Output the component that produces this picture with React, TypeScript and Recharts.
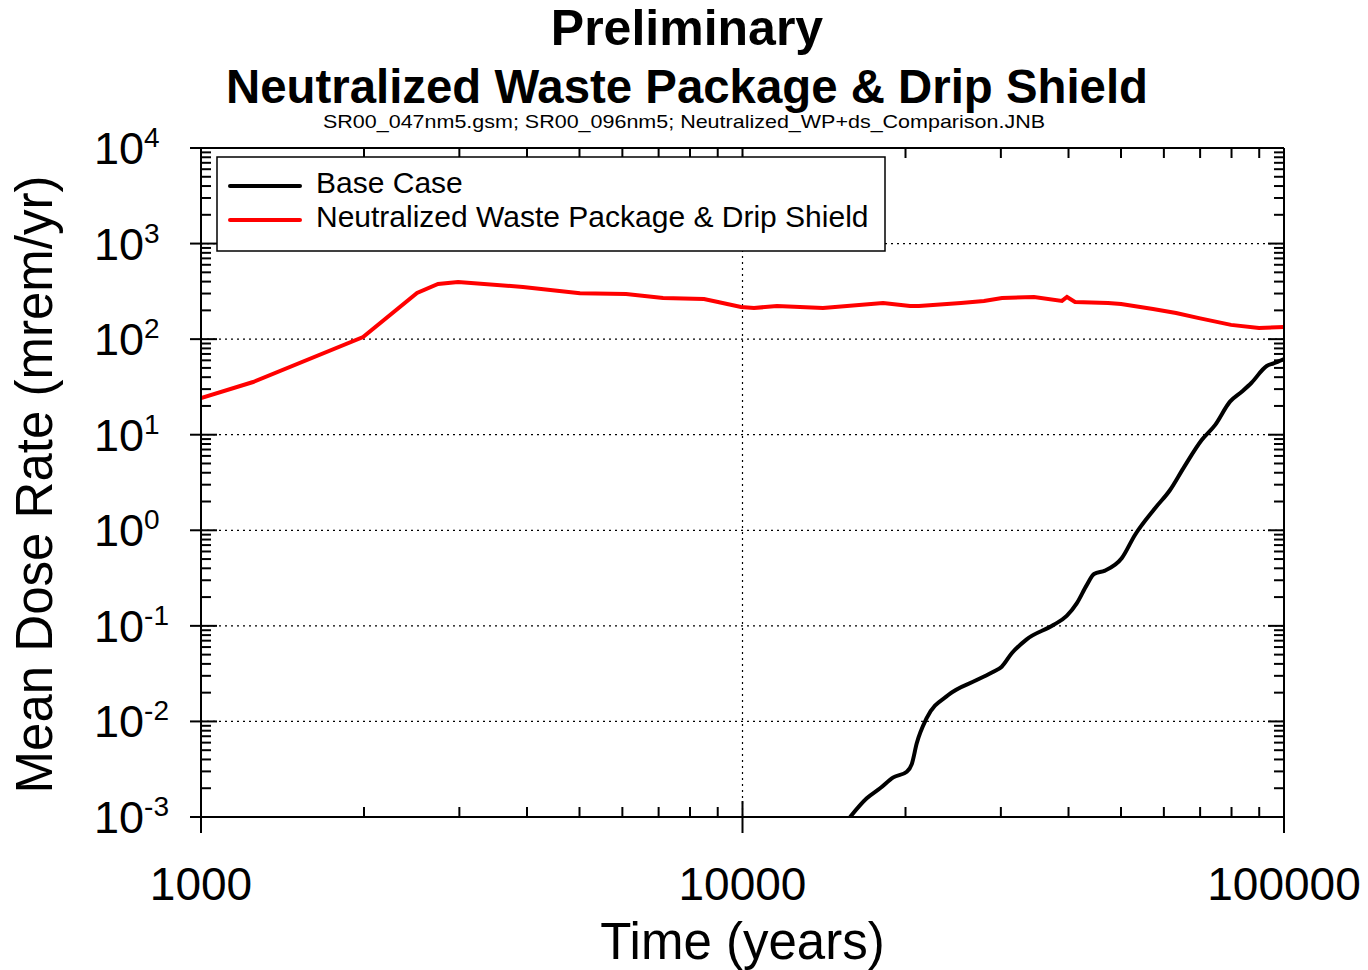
import React from 'react';
import {
  LineChart,
  Line,
  XAxis,
  YAxis,
  CartesianGrid,
  Legend,
} from 'recharts';

// Base case: time (years) vs mean dose rate (mrem/yr)
const BASE_T = [15800, 16960, 17950, 18990, 20110, 20540, 20980, 21880, 23990, 27070, 29060, 30110, 31420, 33480, 37500, 39690, 41420, 43220, 44580, 46710, 50150, 53060, 57790, 61600, 65170, 70470, 74580, 79480, 83560, 87110, 92910, 95640, 100000];
const BASE_DOSE = [0.001, 0.00157, 0.002, 0.0026, 0.00298, 0.00358, 0.0059, 0.0108, 0.0189, 0.0271, 0.0331, 0.0374, 0.0516, 0.0723, 0.102, 0.127, 0.172, 0.267, 0.349, 0.378, 0.509, 0.893, 1.7, 2.64, 4.45, 8.8, 12.6, 22.2, 28.2, 35.0, 52.4, 55.8, 62];

// Neutralized waste package & drip shield
const NEUTRAL_T = [1000, 1248, 1992, 2506, 2740, 2984, 3932, 5010, 6096, 7133, 8489, 9010, 9937, 10500, 11580, 14080, 18180, 20390, 21180, 25320, 27920, 30150, 34540, 38900, 39740, 41120, 47320, 50020, 57290, 63200, 69660, 79830, 89930, 100000];
const NEUTRAL_DOSE = [24.2, 35.6, 105, 304, 378, 396, 352, 302, 296, 269, 263, 245, 217, 212, 222, 212, 239, 222, 222, 239, 251, 269, 276, 251, 276, 245, 239, 233, 207, 188, 166, 141, 131, 134];

const X_MAJOR = [1000, 10000, 100000];
const Y_MAJOR = [0.001, 0.01, 0.1, 1, 10, 100, 1000, 10000];
const MINOR_MULT = [2, 3, 4, 5, 6, 7, 8, 9];

const X_ALL = [
  ...X_MAJOR,
  ...X_MAJOR.slice(0, -1).flatMap((d) => MINOR_MULT.map((m) => m * d)),
];
const Y_ALL = [
  ...Y_MAJOR,
  ...Y_MAJOR.slice(0, -1).flatMap((d) => MINOR_MULT.map((m) => +(m * d).toPrecision(3))),
];

const baseData = BASE_T.map((t, i) => ({ t, dose: BASE_DOSE[i] }));
const neutralData = NEUTRAL_T.map((t, i) => ({ t, dose: NEUTRAL_DOSE[i] }));

const FONT = "'Liberation Sans', Arial, Helvetica, sans-serif";

const isMajor = (v: number) => {
  const l = Math.log10(v);
  return Math.abs(l - Math.round(l)) < 1e-6;
};

// tick marks pointing into the plot area
const InTick = ({ x, y, payload, side }: any) => {
  const len = isMajor(payload.value) ? 16 : 10;
  let x2 = x;
  let y2 = y;
  if (side === 'bottom') y2 = y - len;
  if (side === 'top') y2 = y + len;
  if (side === 'left') x2 = x + len;
  if (side === 'right') x2 = x - len;
  return <line x1={x} y1={y} x2={x2} y2={y2} stroke="#000" strokeWidth={2} />;
};

const PowTick = ({ x, y, payload }: any) => {
  const e = Math.round(Math.log10(payload.value));
  return (
    <text x={x - 96} y={y + 16} textAnchor="start" fill="#000" fontSize={45} fontFamily={FONT}>
      <tspan>10</tspan>
      <tspan dy={-17} fontSize={28}>{e}</tspan>
    </text>
  );
};

const LegendBox = (props: any) => {
  const items = props.payload || [];
  return (
    <svg width={670} height={96} style={{ display: 'block' }}>
      <rect x={1} y={1} width={668} height={94} fill="#fff" stroke="#000" strokeWidth={1.5} />
      {items.map((it: any, i: number) => (
        <g key={it.value}>
          <line x1={14} x2={84} y1={30 + i * 34} y2={30 + i * 34} stroke={it.color} strokeWidth={4} strokeLinecap="round" />
          <text x={100} y={37 + i * 34} fontSize={30} fill="#000" fontFamily={FONT}>{it.value}</text>
        </g>
      ))}
    </svg>
  );
};

export default function App() {
  return (
    <div style={{ position: 'absolute', left: 0, top: 0, width: 1368, height: 970, background: '#fff', fontFamily: FONT }}>
      <LineChart width={1368} height={970} margin={{ top: 148, right: 84, bottom: 0, left: 0 }}>
        <CartesianGrid xAxisId="x" yAxisId="y" stroke="#000" strokeDasharray="2 4" strokeWidth={1.2} />
        <XAxis
          xAxisId="x"
          dataKey="t"
          type="number"
          scale="log"
          domain={[1000, 100000]}
          allowDataOverflow
          ticks={X_MAJOR}
          interval={0}
          height={153}
          tickSize={16}
          tickMargin={34}
          axisLine={{ stroke: '#000', strokeWidth: 2 }}
          tickLine={{ stroke: '#000', strokeWidth: 2 }}
          tick={{ fontSize: 46, fill: '#000', fontFamily: FONT }}
          label={{ value: 'Time (years)', position: 'center', dy: 47, fontSize: 51, fill: '#000', fontFamily: FONT }}
        />
        <XAxis
          xAxisId="xb"
          dataKey="t"
          type="number"
          scale="log"
          domain={[1000, 100000]}
          allowDataOverflow
          ticks={X_ALL}
          interval={0}
          orientation="bottom"
          mirror
          tickSize={0}
          tickMargin={0}
          axisLine={false}
          tickLine={false}
          tick={(p: any) => <InTick {...p} side="bottom" />}
        />
        <XAxis
          xAxisId="xt"
          dataKey="t"
          type="number"
          scale="log"
          domain={[1000, 100000]}
          allowDataOverflow
          ticks={X_ALL}
          interval={0}
          orientation="top"
          mirror
          tickSize={0}
          tickMargin={0}
          axisLine={{ stroke: '#000', strokeWidth: 2 }}
          tickLine={false}
          tick={(p: any) => <InTick {...p} side="top" />}
        />
        <YAxis
          yAxisId="y"
          type="number"
          scale="log"
          domain={[0.001, 10000]}
          allowDataOverflow
          ticks={Y_MAJOR}
          interval={0}
          width={201}
          tickSize={11}
          tickMargin={0}
          axisLine={{ stroke: '#000', strokeWidth: 2 }}
          tickLine={{ stroke: '#000', strokeWidth: 2 }}
          tick={PowTick}
          label={{ value: 'Mean Dose Rate (mrem/yr)', angle: -90, position: 'center', dx: -67, dy: 2, fontSize: 51, fill: '#000', fontFamily: FONT }}
        />
        <YAxis
          yAxisId="yl"
          type="number"
          scale="log"
          domain={[0.001, 10000]}
          allowDataOverflow
          ticks={Y_ALL}
          interval={0}
          orientation="left"
          mirror
          tickSize={0}
          tickMargin={0}
          axisLine={false}
          tickLine={false}
          tick={(p: any) => <InTick {...p} side="left" />}
        />
        <YAxis
          yAxisId="yr"
          type="number"
          scale="log"
          domain={[0.001, 10000]}
          allowDataOverflow
          ticks={Y_ALL}
          interval={0}
          orientation="right"
          mirror
          tickSize={0}
          tickMargin={0}
          axisLine={{ stroke: '#000', strokeWidth: 2 }}
          tickLine={false}
          tick={(p: any) => <InTick {...p} side="right" />}
        />
        <Legend
          layout="vertical"
          align="center"
          verticalAlign="middle"
          wrapperStyle={{ left: 216, top: 156, width: 670, height: 96 }}
          content={LegendBox}
        />
        <Line
          xAxisId="x"
          yAxisId="y"
          data={baseData}
          dataKey="dose"
          name="Base Case"
          type="monotone"
          stroke="#000"
          strokeWidth={4}
          dot={false}
          isAnimationActive={false}
        />
        <Line
          xAxisId="x"
          yAxisId="y"
          data={neutralData}
          dataKey="dose"
          name="Neutralized Waste Package & Drip Shield"
          type="linear"
          stroke="#ff0000"
          strokeWidth={4}
          dot={false}
          isAnimationActive={false}
        />
      </LineChart>
      <svg width={1368} height={140} style={{ position: 'absolute', left: 0, top: 0, pointerEvents: 'none' }}>
        <text x={687} y={45} textAnchor="middle" fontSize={50} fontWeight="bold" fill="#000" fontFamily={FONT}>
          Preliminary
        </text>
        <text x={687} y={103} textAnchor="middle" fontSize={48} fontWeight="bold" fill="#000" fontFamily={FONT} textLength={922} lengthAdjust="spacingAndGlyphs">
          Neutralized Waste Package &amp; Drip Shield
        </text>
        <text x={684} y={128} textAnchor="middle" fontSize={19} fill="#000" fontFamily={FONT} textLength={722} lengthAdjust="spacingAndGlyphs">
          SR00_047nm5.gsm; SR00_096nm5; Neutralized_WP+ds_Comparison.JNB
        </text>
      </svg>
    </div>
  );
}
